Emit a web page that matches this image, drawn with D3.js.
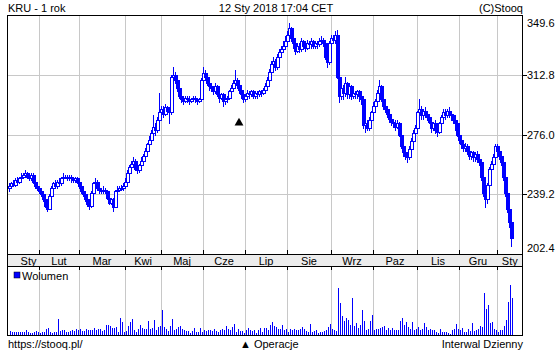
<!DOCTYPE html>
<html>
<head>
<meta charset="utf-8">
<script src="https://cdn.jsdelivr.net/npm/d3@7"></script>
<style>
  body { margin: 0; background: #fff; }
  svg { display: block; }
  text { font-family: "Liberation Sans", Arial, sans-serif; font-size: 11px; fill: #000; }
</style>
</head>
<body>
<div id="chart"></div>
<script>
// KRU daily candles, 12 Jan 2017 .. 12 Jan 2018 (one entry per trading day).
// Values, grouped by month.
const open = [
  243,244,246,245,248,247,249,250,251,252,250,249,251,247,
  244,243,241,239,236,232,230,238,243,246,244,247,246,249,250,250,249,250,249,248,
  249,247,244,241,239,236,233,232,240,246,247,243,242,241,242,241,237,234,236,231,241,242,243,
  243,244,247,252,256,258,260,255,254,257,260,263,266,270,273,277,281,279,
  285,290,292,289,293,291,290,312,313,310,305,300,298,297,299,298,297,298,299,298,297,
  298,310,314,312,308,306,305,303,306,301,299,301,297,298,299,303,305,308,310,307,304,
  301,298,300,302,301,303,300,302,301,303,302,304,306,310,315,320,322,318,324,327,329,
  331,334,338,342,336,333,328,331,329,334,331,330,333,332,334,331,333,332,334,335,333,324,
  321,333,336,335,338,312,300,305,302,308,301,306,300,302,301,303,300,298,282,283,280,
  285,290,294,297,302,306,298,294,292,289,286,284,283,281,283,276,269,265,263,262,267,272,
  277,280,290,292,288,291,289,287,284,280,283,279,278,283,287,290,288,291,289,288,285,
  283,276,273,270,268,269,266,263,265,262,264,261,259,250,240,236,245,255,258,
  262,269,266,263,259,250,240,230,222
];
const high = [
  246,247,248,249,250,250,252,252,254,253,252,252,252,248,
  246,244,242,240,237,234,239,244,247,248,248,249,250,252,251,251,251,251,250,250,
  250,248,245,243,240,237,235,241,247,249,248,244,243,244,243,242,238,237,237,242,244,244,245,
  246,249,254,257,260,262,261,256,258,262,264,268,271,275,279,288,283,287,
  302,294,294,295,294,293,313,318,315,311,306,301,300,300,300,300,299,300,300,299,299,
  311,318,316,313,309,308,306,308,307,302,302,302,300,300,304,307,310,316,311,308,305,
  303,301,304,303,304,304,303,303,304,304,305,308,312,317,322,324,323,326,329,331,334,
  337,340,345,343,338,334,333,333,336,335,333,335,334,336,335,334,334,336,337,336,334,326,
  334,338,338,340,341,314,310,307,312,309,307,307,304,303,304,304,301,299,285,285,287,
  291,296,298,304,310,307,300,295,293,290,288,286,285,285,284,277,271,267,265,269,274,279,
  282,291,298,294,292,293,290,289,285,284,285,282,284,288,292,292,292,293,290,289,286,
  284,277,275,271,271,270,267,266,266,265,266,263,261,252,243,246,256,260,264,
  270,270,267,264,260,251,241,232,223
];
const low = [
  241,243,244,244,246,246,248,249,250,249,248,248,246,243,
  242,240,238,235,231,229,230,236,242,243,243,245,245,248,249,248,248,247,247,247,
  246,243,240,238,235,232,230,231,239,245,242,240,240,240,240,236,233,233,229,231,240,241,242,
  242,243,246,250,255,257,254,252,253,256,259,262,265,268,272,276,276,278,
  284,288,287,288,289,283,289,309,308,303,299,296,295,296,296,295,296,297,296,295,296,
  297,308,310,307,304,303,301,302,300,296,298,294,295,296,298,301,304,306,305,302,299,
  296,297,299,299,300,299,299,299,300,300,301,303,305,309,314,318,316,317,322,325,328,
  329,332,336,334,330,326,327,327,328,330,328,329,330,330,330,330,330,331,332,331,323,318,
  320,331,333,333,311,296,298,298,300,299,299,298,299,299,299,297,295,280,278,279,279,
  283,288,292,296,300,297,292,290,287,284,282,281,279,280,275,268,263,261,259,261,266,270,
  275,279,288,286,286,287,285,283,278,279,277,275,277,282,285,286,287,287,285,283,279,
  275,271,268,266,266,264,261,261,260,260,259,257,248,238,231,234,244,253,256,
  261,264,261,257,248,238,228,219,207
];
const close = [
  244,246,245,248,247,249,250,251,252,250,249,251,247,244,
  243,241,239,236,232,230,238,243,246,244,247,246,249,250,250,249,250,249,248,249,
  247,244,241,239,236,233,232,240,246,247,243,242,241,242,241,237,234,236,231,241,242,243,243,
  244,247,252,256,258,260,255,254,257,260,263,266,270,273,277,281,279,285,
  290,292,289,293,291,290,312,313,310,305,300,298,297,299,298,297,298,299,298,297,298,
  310,314,312,308,306,305,303,306,301,299,301,297,298,299,303,305,308,310,307,304,301,
  298,300,302,301,303,300,302,301,303,302,304,306,310,315,320,322,318,324,327,329,331,
  334,338,342,336,333,328,331,329,334,331,330,333,332,334,331,333,332,334,335,333,324,321,
  333,336,335,338,312,300,305,302,308,301,306,300,302,301,303,300,298,282,283,280,285,
  290,294,297,302,306,298,294,292,289,286,284,283,281,283,276,269,265,263,262,267,272,277,
  280,290,292,288,291,289,287,284,280,283,279,278,283,287,290,288,291,289,288,285,283,
  276,273,270,268,269,266,263,265,262,264,261,259,250,240,236,245,255,258,262,
  269,266,263,259,250,240,230,222,212
];
// daily volume, thousands of shares
const volume = [
  9,7,6,6,6,6,7,7,11,6, 5,5,7,9,6,5,7,6,13,15, 7,5,6,7,33,8,11,10,6,6,
  8,10,9,13,10,13,9,9,13,10, 10,11,15,10,13,13,9,11,20,20, 19,14,15,17,7,35,26,7,8,19,
  27,33,11,7,13,21,15,13,13,28, 13,14,30,11,17,18,50,17,13,9, 18,33,10,13,17,19,13,10,8,9,
  5,9,15,6,6,15,7,11,9,10, 11,9,13,9,7,11,12,11,19,13, 10,17,22,7,13,8,9,5,11,14,
  10,9,11,5,11,14,7,15,15,11, 21,27,18,17,12,
  13,20,10,13,7,13,10,13,11,10, 13,17,13,9,7,22,7,9,10,5, 7,7,9,10,17,22,13,10,9,94,
  64,38,29,34,30,21,74,18,25,15, 20,50,28,11,13,28,40,10,12,13, 15,17,18,10,15,10,15,10,11,10,
  28,35,20,27,17,13,27,10,13,17, 10,13,25,17,10,12,10,10,7,5, 12,7,7,7,5,3,10,13,22,13,
  10,15,7,7,13,8,25,9,10,12, 18,17,84,52,60,25,27,13,10,7, 11,11,18,30,66,100,74
];

// index of the first trading day of each month (Feb 2017 .. Jan 2018)
const monthStarts = [14, 34, 57, 75, 96, 117, 138, 160, 181, 203, 224, 243];
const monthNames = ['Sty','Lut','Mar','Kwi','Maj','Cze','Lip','Sie','Wrz','Paz','Lis','Gru','Sty'];
const priceTicks = [202.4, 239.2, 276.0, 312.8, 349.6];
// "operation" markers drawn under the candles
const operations = [{ day: 114, price: 284 }];

(function () {
  const W = 560, H = 350;
  const L = 7.5, R = 522.5;                 // frame edges
  const priceTop = 15.5, priceBot = 254.5;  // price panel
  const bandBot = 266.5, volBot = 335.5;    // month band + volume panel
  const blue = '#0000ff', grid = '#c8c8c8';
  const crisp = v => Math.round(v) + 0.5;

  const svg = d3.select('#chart').append('svg').attr('width', W).attr('height', H);
  svg.append('rect').attr('width', W).attr('height', H).attr('fill', '#fff');

  const n = close.length;
  const x = d3.scaleLinear().domain([-1.5, 256]).range([8, 523]);
  const y = d3.scaleLinear().domain([priceTicks[0], priceTicks[priceTicks.length - 1]]).range([253.5, 16]);
  const yVol = d3.scaleLinear().domain([0, d3.max(volume) * 1.34]).range([335, 268]);

  // ----- grid -----
  const g = svg.append('g').attr('stroke', grid).attr('stroke-width', 1);
  g.selectAll('.hg').data(priceTicks.slice(1, -1)).enter().append('line')
    .attr('x1', L).attr('x2', R)
    .attr('y1', d => crisp(y(d))).attr('y2', d => crisp(y(d)));
  g.selectAll('.vg').data(monthStarts).enter().append('line')
    .attr('x1', d => crisp(x(d))).attr('x2', d => crisp(x(d)))
    .attr('y1', priceTop).attr('y2', 250);
  g.selectAll('.vv').data(monthStarts).enter().append('line')
    .attr('x1', d => crisp(x(d))).attr('x2', d => crisp(x(d)))
    .attr('y1', 270).attr('y2', volBot);

  // ----- month band -----
  svg.append('rect').attr('x', L).attr('y', priceBot).attr('width', R - L).attr('height', bandBot - priceBot)
    .attr('fill', '#ececec');
  const ticks = svg.append('g').attr('stroke', '#000');
  monthStarts.forEach(d => {
    const xx = crisp(x(d));
    ticks.append('line').attr('x1', xx).attr('x2', xx).attr('y1', 250).attr('y2', priceBot);
    ticks.append('line').attr('x1', xx).attr('x2', xx).attr('y1', bandBot).attr('y2', 270);
  });
  const bounds = [x(0)].concat(monthStarts.map(x), [R]);
  svg.append('g').selectAll('text').data(monthNames).enter().append('text')
    .attr('text-anchor', 'middle')
    .attr('x', (d, i) => {
      const mid = (bounds[i] + bounds[i + 1]) / 2;
      return i === 0 ? Math.max(mid, L + 21) : mid;   // first month is partial
    })
    .attr('y', 265)
    .text(d => d);

  // ----- volume -----
  svg.append('g').attr('fill', blue).selectAll('rect').data(volume).enter().append('rect')
    .attr('x', (d, i) => Math.round(x(i)) - 1)
    .attr('width', 1)
    .attr('y', d => Math.round(yVol(d)))
    .attr('height', d => 335 - Math.round(yVol(d)));
  svg.append('rect').attr('x', 14).attr('y', 272).attr('width', 6).attr('height', 6)
    .attr('fill', blue).attr('stroke', '#000').attr('stroke-width', 0.5);
  svg.append('text').attr('x', 22).attr('y', 280).text('Wolumen');

  // ----- candles -----
  const days = d3.range(n).map(i => ({ i, o: open[i], h: high[i], l: low[i], c: close[i] }));
  const cg = svg.append('g');
  days.forEach(d => {
    const cx = Math.round(x(d.i));
    cg.append('line')
      .attr('x1', cx - 1.5).attr('x2', cx - 1.5)
      .attr('y1', Math.round(y(d.h))).attr('y2', Math.round(y(d.l)) + 1)
      .attr('stroke', blue);
    const top = Math.round(y(Math.max(d.o, d.c)));
    const bot = Math.round(y(Math.min(d.o, d.c)));
    const up = d.c >= d.o;
    cg.append('rect')
      .attr('x', cx - 2.5).attr('width', 3)
      .attr('y', top + 0.5).attr('height', Math.max(bot - top, 1))
      .attr('fill', up ? '#fff' : blue)
      .attr('stroke', blue);
  });

  // operation markers
  svg.append('g').selectAll('path').data(operations).enter().append('path')
    .attr('d', d3.symbol(d3.symbolTriangle, 34))
    .attr('transform', d => `translate(${x(d.day)},${y(d.price) + 1})`)
    .attr('fill', '#000');

  // ----- frames -----
  const fr = svg.append('g').attr('fill', 'none').attr('stroke', '#000');
  fr.append('rect').attr('x', L).attr('y', priceTop).attr('width', R - L).attr('height', priceBot - priceTop);
  fr.append('rect').attr('x', L).attr('y', bandBot).attr('width', R - L).attr('height', volBot - bandBot);
  fr.append('line').attr('x1', L).attr('x2', L).attr('y1', priceBot).attr('y2', bandBot);
  fr.append('line').attr('x1', R).attr('x2', R).attr('y1', priceBot).attr('y2', bandBot);

  // ----- right price axis -----
  priceTicks.slice(1, -1).forEach(t => {
    fr.append('line').attr('x1', R).attr('x2', 527).attr('y1', crisp(y(t))).attr('y2', crisp(y(t)));
  });
  svg.append('g').selectAll('text').data(priceTicks).enter().append('text')
    .attr('x', 527)
    .attr('y', d => Math.min(Math.max(y(d), 23), 248) + 4)
    .text(d => d.toFixed(1));

  // ----- header / footer -----
  svg.append('text').attr('x', 8).attr('y', 12).text('KRU - 1 rok');
  svg.append('text').attr('x', 276).attr('y', 12).attr('text-anchor', 'middle').text('12 Sty 2018 17:04 CET');
  svg.append('text').attr('x', 523).attr('y', 12).attr('text-anchor', 'end').text('(C)Stooq');
  svg.append('text').attr('x', 8).attr('y', 348).text('https://stooq.pl/');
  svg.append('text').attr('x', 240).attr('y', 348).text('▲ Operacje');
  svg.append('text').attr('x', 523).attr('y', 348).attr('text-anchor', 'end').text('Interwal Dzienny');
})();
</script>
</body>
</html>
